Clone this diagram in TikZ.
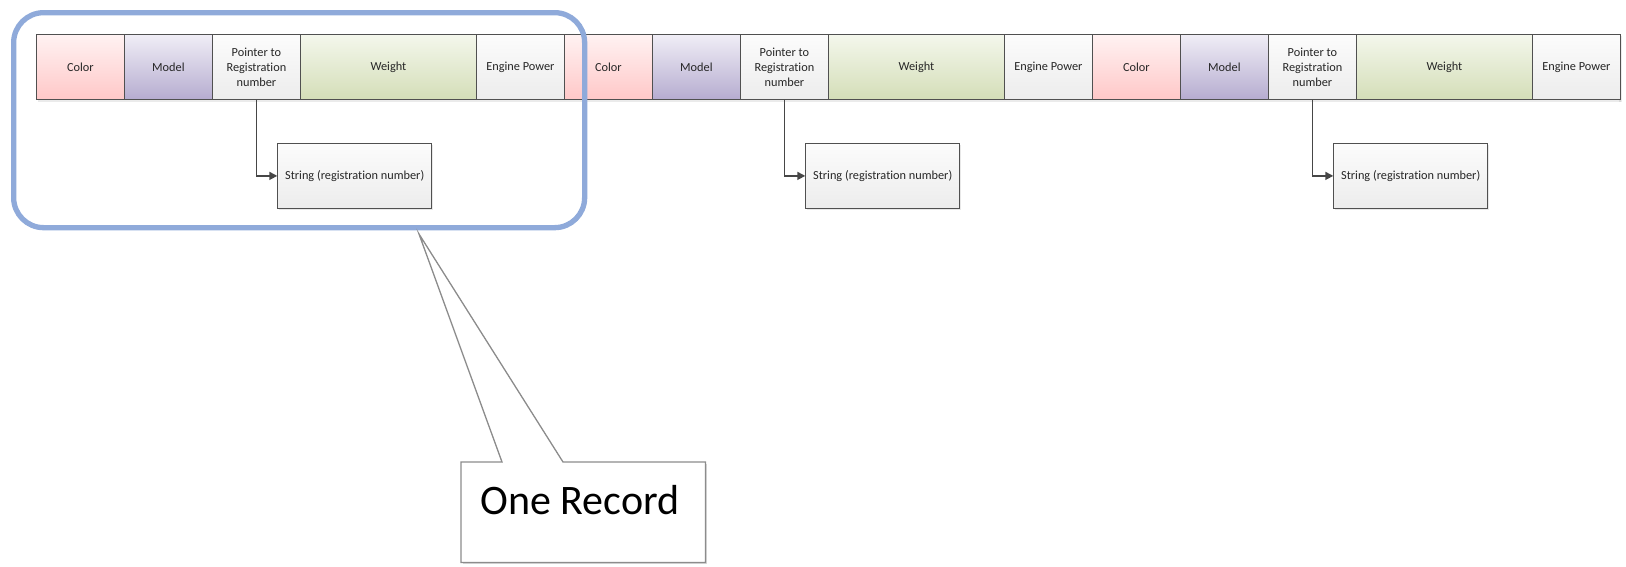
\documentclass[tikz,border=0pt]{standalone}
\usepackage{fontspec}
\setmainfont{Carlito}[Ligatures=NoCommon]
\usetikzlibrary{shadows,arrows.meta,calc}

\definecolor{cellline}{RGB}{80,80,80}
\definecolor{linkline}{RGB}{70,70,70}
\definecolor{frameblue}{RGB}{143,170,218}
\definecolor{calloutline}{RGB}{140,140,140}
\definecolor{pinktop}{RGB}{255,242,242}
\definecolor{pinkbot}{RGB}{255,200,200}
\definecolor{purptop}{RGB}{240,238,246}
\definecolor{purpbot}{RGB}{182,172,208}
\definecolor{greytop}{RGB}{252,252,252}
\definecolor{greybot}{RGB}{236,236,236}
\definecolor{greentop}{RGB}{244,247,236}
\definecolor{greenbot}{RGB}{212,222,184}

\tikzset{
  cell/.style={draw=cellline, line width=0.8pt, inner sep=0pt, anchor=north west,
    minimum height=65pt, minimum width=88pt, align=center,
    font=\fontsize{12.3}{15}\selectfont, text=black!85},
  wide/.style={minimum width=176pt},
  pinkcell/.style={cell, top color=pinktop, bottom color=pinkbot},
  purplecell/.style={cell, top color=purptop, bottom color=purpbot},
  greycell/.style={cell, top color=greytop, bottom color=greybot},
  greencell/.style={cell, wide, top color=greentop, bottom color=greenbot},
  strbox/.style={cell, minimum width=154pt, top color=greytop, bottom color=greybot,
    drop shadow={shadow xshift=1.5pt, shadow yshift=-1.5pt, opacity=0.18}},
  link/.style={draw=linkline, line width=1.5pt,
    -{Triangle[length=8pt,width=8pt]}},
  recframe/.style={draw=frameblue, line width=5.3pt, rounded corners=30pt,
    inner sep=0pt, anchor=north west},
  callout/.style={draw=calloutline, line width=1.3pt, fill=white},
}

\begin{document}
\begin{tikzpicture}[x=1pt, y=-1pt]
  \useasboundingbox (0,0) rectangle (1626,566);

  % shadow strip under the row of fields
  \fill[black, opacity=0.08] (37.5,99) rectangle (1621,101.5);
  \fill[black, opacity=0.08] (1619,35.5) rectangle (1621.5,101.5);

  % three consecutive records, each with its pointed-to string
  \foreach \r in {0,1,2} {
    \pgfmathsetmacro\xo{36+528*\r}
    \node[pinkcell]   (col\r) at (\xo,34) {Color};
    \node[purplecell] (mod\r) at (\xo+88,34) {Model};
    \node[greycell]   (ptr\r) at (\xo+176,34) {Pointer to\\Registration\\number};
    \node[greencell]  (wgt\r) at (\xo+264,34) {Weight};
    \node[greycell]   (eng\r) at (\xo+440,34) {Engine Power};
    \node[strbox]     (str\r) at (\xo+241.3,143) {String (registration number)};
    \draw[link] (ptr\r.south) |- (str\r.west);
  }

  % frame marking a single record
  \node[recframe, minimum width=571pt, minimum height=215pt] (frame) at (11,10) {};

  % callout labelling the framed record
  \node[minimum width=244pt, minimum height=100pt, inner sep=0pt, anchor=north west]
    (note) at (461,462) {};
  \coordinate (tip) at (419,234);
  \fill[black, opacity=0.15] ($(note.north west)+(2,2)$) rectangle ($(note.south east)+(2,2)$);
  \path[callout] (note.north west) -- ($(note.north west)+(41,0)$) -- (tip)
    -- ($(note.north west)+(102,0)$) -- (note.north east) -- (note.south east)
    -- (note.south west) -- cycle;
  \node[anchor=base, inner sep=0pt, font=\fontsize{42}{50}\selectfont] (notetext)
    at (580,514) {One Record};
\end{tikzpicture}
\end{document}
